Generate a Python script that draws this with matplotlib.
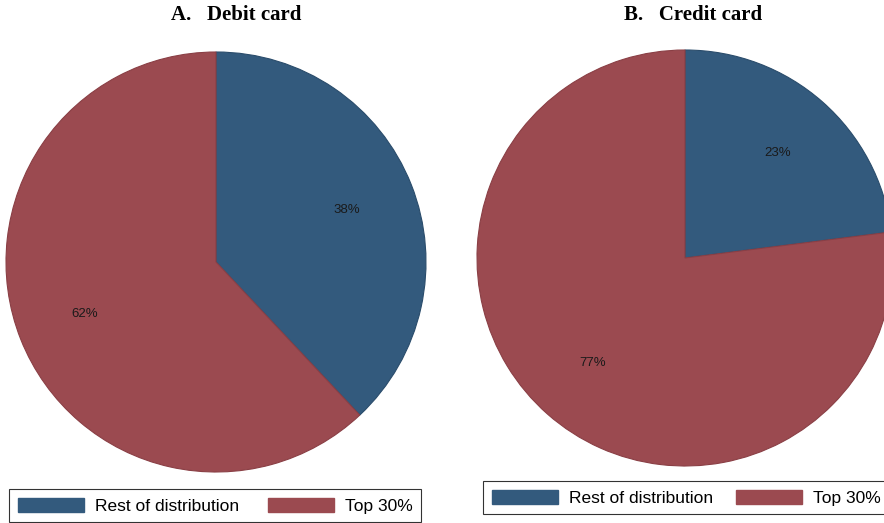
import matplotlib
matplotlib.use("Agg")
import matplotlib.pyplot as plt
from matplotlib.patches import Patch

# Shares of spending by part of the distribution.
groups = ["Rest of distribution", "Top 30%"]
debit_shares = [38, 62]
credit_shares = [23, 77]
panel_titles = ["A.   Debit card", "B.   Credit card"]

colors = ["#335a7d", "#9b4a50"]
edge_colors = ["#2a4c6b", "#8a3f45"]

W, H = 884, 523
fig = plt.figure(figsize=(W / 100, H / 100), dpi=100)


def px_axes(x0, y_top, size):
    # axes placed in pixel units, measured from the top-left corner
    return fig.add_axes([x0 / W, (H - y_top - size) / H, size / W, size / H])


def draw_pie(ax, shares):
    wedges, _, autotexts = ax.pie(
        shares, colors=colors, startangle=90, counterclock=False,
        autopct="%d%%", pctdistance=0.67, radius=1,
        wedgeprops=dict(linewidth=0.8),
        textprops=dict(fontsize=9.5, color="#1a1a1a", family="Liberation Sans"),
    )
    for w, ec in zip(wedges, edge_colors):
        w.set_edgecolor(ec)
    ax.set_xlim(-1, 1)
    ax.set_ylim(-1, 1)
    ax.set_aspect("equal")
    ax.axis("off")


ax1 = px_axes(6, 52, 420)
draw_pie(ax1, debit_shares)
ax2 = px_axes(477, 50, 416)
draw_pie(ax2, credit_shares)

title_kw = dict(fontsize=15, fontweight="bold", family="Liberation Serif",
                ha="center", va="center")
fig.text(236 / W, 1 - 15 / H, panel_titles[0], **title_kw)
fig.text(693 / W, 1 - 15 / H, panel_titles[1], **title_kw)

handles = [Patch(facecolor=c, edgecolor=c) for c in colors]
leg_kw = dict(ncol=2, loc="upper left", frameon=True, fancybox=False,
              handlelength=3.8, handleheight=0.86, handletextpad=0.65,
              borderaxespad=0, borderpad=0.5,
              prop=dict(family="Liberation Sans", size=12.5))

leg1 = fig.legend(handles, groups, bbox_to_anchor=(9 / W, 1 - 489 / H),
                  columnspacing=1.65, **leg_kw)
leg2 = fig.legend(handles, groups, bbox_to_anchor=(483 / W, 1 - 481 / H),
                  columnspacing=1.3, **leg_kw)
for leg in (leg1, leg2):
    leg.get_frame().set_edgecolor("black")
    leg.get_frame().set_linewidth(0.8)

fig.savefig("out.png", dpi=100)
